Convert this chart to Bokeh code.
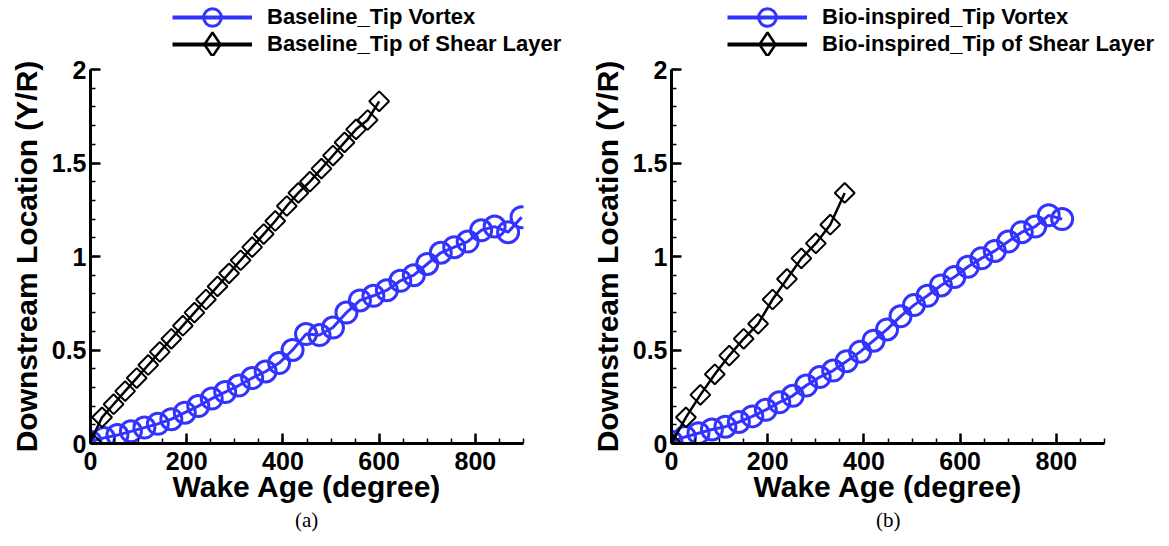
import numpy as np
from bokeh.plotting import figure
from bokeh.layouts import row, column
from bokeh.models import (Legend, LegendItem, SingleIntervalTicker, Range1d, Title)
from bokeh.embed import file_html
from bokeh.resources import INLINE

# ---------------- data ----------------
# (a) Baseline
base_vortex_age = [0, 28, 56, 84, 112, 140, 168, 196, 224, 252, 280, 308, 336, 364, 392, 420,
                   448, 476, 504, 532, 560, 588, 616, 644, 672, 700, 728, 756, 784, 812, 840, 868, 896]
base_vortex_y = [0.01, 0.03, 0.045, 0.065, 0.085, 0.105, 0.13, 0.165, 0.20, 0.24, 0.275, 0.31, 0.35,
                 0.385, 0.43, 0.50, 0.585, 0.58, 0.62, 0.70, 0.765, 0.79, 0.82, 0.87, 0.90, 0.96, 1.02,
                 1.05, 1.08, 1.14, 1.16, 1.13, 1.21]
base_shear_age = [0, 24, 48, 72, 96, 120, 144, 168, 192, 216, 240, 264, 288, 312, 336, 360, 384,
                  408, 432, 456, 480, 504, 528, 552, 576, 600]
base_shear_y = [0.01, 0.14, 0.21, 0.28, 0.35, 0.42, 0.49, 0.56, 0.63, 0.70, 0.77, 0.84, 0.91, 0.98,
                1.05, 1.12, 1.19, 1.27, 1.34, 1.40, 1.47, 1.54, 1.61, 1.68, 1.73, 1.83]
# (b) Bio-inspired
bio_vortex_age = [0, 28, 56, 84, 112, 140, 168, 196, 224, 252, 280, 308, 336, 364, 392, 420, 448,
                  476, 504, 532, 560, 588, 616, 644, 672, 700, 728, 756, 784, 812]
bio_vortex_y = [0.01, 0.035, 0.055, 0.075, 0.09, 0.115, 0.145, 0.18, 0.22, 0.255, 0.31, 0.355, 0.39,
                0.44, 0.49, 0.55, 0.61, 0.68, 0.74, 0.79, 0.845, 0.89, 0.945, 0.99, 1.03, 1.08, 1.13,
                1.16, 1.22, 1.20]
bio_shear_age = [0, 30, 60, 90, 120, 150, 180, 210, 240, 270, 300, 330, 360]
bio_shear_y = [0.0, 0.14, 0.26, 0.37, 0.47, 0.56, 0.64, 0.77, 0.88, 0.99, 1.07, 1.17, 1.34]

x_axis_end = 900
y_axis_end = 2
y_ticks = [0, 0.5, 1, 1.5, 2]
y_tick_labels = ["0", "0.5", "1", "1.5", "2"]

labels_a = ["Baseline_Tip Vortex", "Baseline_Tip of Shear Layer"]
labels_b = ["Bio-inspired_Tip Vortex", "Bio-inspired_Tip of Shear Layer"]
captions = ["(a)", "(b)"]

BLUE = "#3333ff"
FONT = "Liberation Sans"
FRAME_W = 433
FRAME_H = 374
LEG_H = 56
PAGE_W = 1169


def make_panel(vx, vy, sx, sy, caption, left_b, right_b):
    p = figure(frame_width=FRAME_W, frame_height=FRAME_H,
               x_range=Range1d(0, x_axis_end), y_range=Range1d(0, y_axis_end),
               min_border_left=left_b, min_border_right=right_b,
               min_border_top=69 - LEG_H, min_border_bottom=103,
               output_backend="svg", toolbar_location=None,
               background_fill_color="white", border_fill_color="white")
    p.outline_line_color = None
    p.grid.visible = False

    p.xaxis.ticker = SingleIntervalTicker(interval=200, num_minor_ticks=4)
    p.yaxis.ticker = SingleIntervalTicker(interval=0.5, num_minor_ticks=5)
    p.yaxis.major_label_overrides = dict(zip(y_ticks, y_tick_labels))
    for ax in (p.xaxis, p.yaxis):
        ax.axis_line_width = 3
        ax.major_tick_in = 10
        ax.major_tick_out = 0
        ax.minor_tick_in = 5
        ax.minor_tick_out = 0
        ax.major_tick_line_width = 2.5
        ax.minor_tick_line_width = 1.5
        ax.major_label_text_font = FONT
        ax.major_label_text_font_style = "bold"
        ax.major_label_text_font_size = "25px"
        ax.major_label_text_color = "black"
        ax.axis_label_text_font = FONT
        ax.axis_label_text_font_style = "bold"
        ax.axis_label_text_font_size = "30px"
        ax.axis_label_text_color = "black"
    p.xaxis.axis_label = "Wake Age (degree)"
    p.yaxis.axis_label = "Downstream Location (Y/R)"
    p.xaxis.major_label_standoff = 8
    p.xaxis.axis_label_standoff = -3
    p.yaxis.major_label_standoff = 4
    p.yaxis.axis_label_standoff = 6

    p.line(vx, vy, line_color=BLUE, line_width=3)
    p.scatter(vx, vy, marker="circle", size=21, line_color=BLUE, line_width=3, fill_alpha=0)
    p.line(sx, sy, line_color="black", line_width=2.5)
    p.scatter(sx, sy, marker="square", angle=np.pi / 4, size=14, line_color="black",
              line_width=2, fill_alpha=0)

    p.add_layout(Title(text=caption, align="left", offset=FRAME_W / 2 - 12,
                       text_font="Liberation Serif", text_font_style="normal",
                       text_font_size="21px", text_color="black", standoff=0), "below")
    return p


# strip across the top that carries both keys; its view range is set away from the data
k = figure(width=PAGE_W, height=LEG_H, x_range=Range1d(-20, -10), y_range=Range1d(-20, -10),
           min_border=0, output_backend="svg", toolbar_location=None,
           background_fill_color="white", border_fill_color="white")
k.axis.visible = False
k.grid.visible = False
k.outline_line_color = None

common = dict(orientation="vertical", glyph_width=80, spacing=0, label_standoff=15,
              padding=0, margin=0, border_line_color=None, background_fill_alpha=0,
              label_text_font=FONT, label_text_font_style="bold",
              label_text_font_size="22px", label_text_color="black")

for (vx, vy, sx, sy, labels, gx) in [
        (base_vortex_age, base_vortex_y, base_shear_age, base_shear_y, labels_a, 172),
        (bio_vortex_age, bio_vortex_y, bio_shear_age, bio_shear_y, labels_b, 727)]:
    r1 = k.line(vx, vy, line_color=BLUE, line_width=4)
    r1m = k.scatter(vx, vy, marker="circle", line_color=BLUE, line_width=3, fill_alpha=0)
    r2 = k.line(sx, sy, line_color="black", line_width=4)
    r2m = k.scatter(sx, sy, marker="diamond", line_color="black", line_width=2.5, fill_alpha=0)
    # row centres at 17 px and 44 px from the top
    k.add_layout(Legend(items=[LegendItem(label=labels[0], renderers=[r1, r1m])],
                        glyph_height=44, label_height=44,
                        location=(gx, LEG_H - 17 - 22), **common), "center")
    k.add_layout(Legend(items=[LegendItem(label=labels[1], renderers=[r2, r2m])],
                        glyph_height=60, label_height=60,
                        location=(gx, LEG_H - 44 - 30), **common), "center")

p1 = make_panel(base_vortex_age, base_vortex_y, base_shear_age, base_shear_y, captions[0], 90, 57)
p2 = make_panel(bio_vortex_age, bio_vortex_y, bio_shear_age, bio_shear_y, captions[1], 91, 65)

layout = column(k, row(p1, p2, spacing=0), spacing=0)
open("out.html", "w").write(file_html(layout, INLINE))
